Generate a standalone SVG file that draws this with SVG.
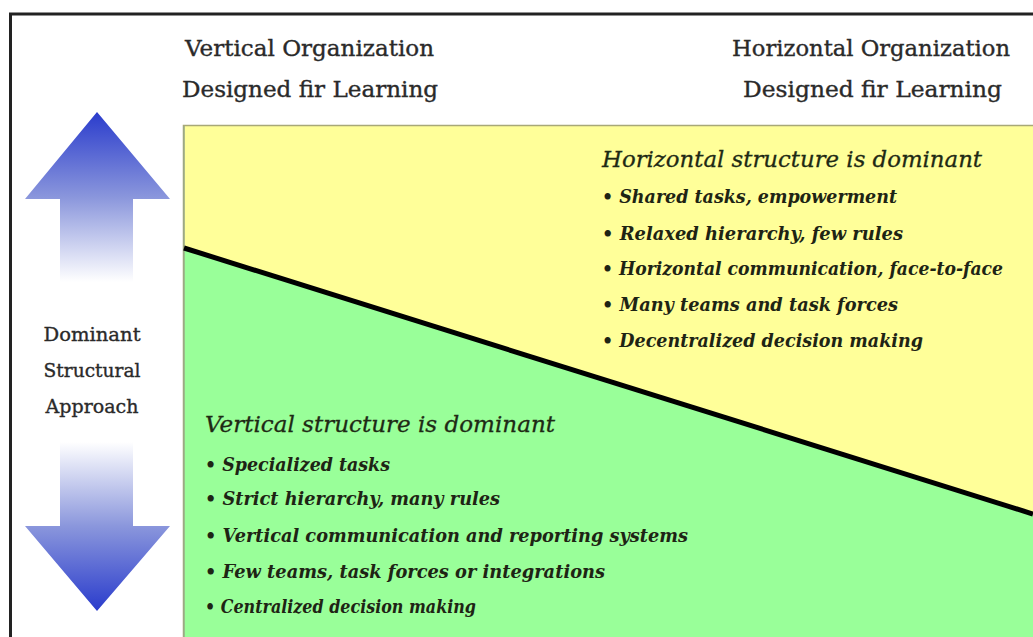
<svg xmlns="http://www.w3.org/2000/svg" width="1033" height="637" viewBox="0 0 1033 637">
<style>
text{font-family:"DejaVu Serif","Liberation Serif",serif}
.hdr{font-size:22px;fill:#2a2a2a;stroke:#2a2a2a;stroke-width:0.35}
.lbl{font-size:19px;fill:#2a2a2a;stroke:#2a2a2a;stroke-width:0.35}
.ttl{font-size:23px;font-style:italic;fill:#1e2a14;stroke:#1e2a14;stroke-width:0.3}
.bul{font-size:18px;font-style:italic;font-weight:bold;fill:#1e2414}
</style>
<defs>
<linearGradient id="gUp" x1="0" y1="0" x2="0" y2="1">
<stop offset="0" stop-color="#2a3ccc"/>
<stop offset="0.5" stop-color="#8a96dc"/>
<stop offset="1" stop-color="#ffffff"/>
</linearGradient>
<linearGradient id="gDn" x1="0" y1="1" x2="0" y2="0">
<stop offset="0" stop-color="#2a3ccc"/>
<stop offset="0.5" stop-color="#8a96dc"/>
<stop offset="1" stop-color="#ffffff"/>
</linearGradient>
</defs>
<rect width="1033" height="637" fill="#ffffff"/>
<g id="frame">
<line x1="9" y1="14" x2="1033" y2="14" stroke="#222" stroke-width="3"/>
<line x1="10.5" y1="13" x2="10.5" y2="637" stroke="#222" stroke-width="3"/>
</g>
<g id="panel">
<rect x="183.5" y="125.5" width="852" height="515" fill="#ffff99" stroke="#a8a878" stroke-width="1.5"/>
<polygon points="184,248 1034,514 1034,637 184,637" fill="#99ff99"/>
<line x1="184" y1="126" x2="184" y2="637" stroke="#9aaa88" stroke-width="1.5"/>
</g>
<g id="connectors">
<line x1="184" y1="248" x2="1033" y2="514" stroke="#000" stroke-width="5"/>
</g>
<g id="arrow-up">
<polygon points="97,112 170,199 133,199 133,282 60,282 60,199 25,199" fill="url(#gUp)"/>
</g>
<g id="arrow-down">
<polygon points="60,442 133,442 133,526 170,526 97,611 25,526 60,526" fill="url(#gDn)"/>
</g>
<g id="header-vertical">
<text class="hdr" x="185" y="56" textLength="249" lengthAdjust="spacingAndGlyphs">Vertical Organization</text>
<text class="hdr" x="182" y="97" textLength="256" lengthAdjust="spacingAndGlyphs">Designed fir Learning</text>
</g>
<g id="header-horizontal">
<text class="hdr" x="732" y="56" textLength="278" lengthAdjust="spacingAndGlyphs">Horizontal Organization</text>
<text class="hdr" x="743" y="97" textLength="259" lengthAdjust="spacingAndGlyphs">Designed fir Learning</text>
</g>
<g id="axis-label">
<text class="lbl" x="92" y="341" text-anchor="middle" textLength="97" lengthAdjust="spacingAndGlyphs">Dominant</text>
<text class="lbl" x="92" y="377" text-anchor="middle" textLength="97" lengthAdjust="spacingAndGlyphs">Structural</text>
<text class="lbl" x="92" y="413" text-anchor="middle" textLength="93" lengthAdjust="spacingAndGlyphs">Approach</text>
</g>
<g id="horizontal-dominant">
<text class="ttl" x="602" y="167" textLength="380" lengthAdjust="spacingAndGlyphs">Horizontal structure is dominant</text>
<text class="bul" x="602" y="203" textLength="295" lengthAdjust="spacingAndGlyphs">• Shared tasks, empowerment</text>
<text class="bul" x="602" y="240" textLength="301" lengthAdjust="spacingAndGlyphs">• Relaxed hierarchy, few rules</text>
<text class="bul" x="602" y="275" textLength="401" lengthAdjust="spacingAndGlyphs">• Horizontal communication, face-to-face</text>
<text class="bul" x="602" y="311" textLength="296" lengthAdjust="spacingAndGlyphs">• Many teams and task forces</text>
<text class="bul" x="602" y="347" textLength="321" lengthAdjust="spacingAndGlyphs">• Decentralized decision making</text>
</g>
<g id="vertical-dominant">
<text class="ttl" x="205" y="432" textLength="350" lengthAdjust="spacingAndGlyphs">Vertical structure is dominant</text>
<text class="bul" x="205" y="471" textLength="185" lengthAdjust="spacingAndGlyphs">• Specialized tasks</text>
<text class="bul" x="205" y="505" textLength="295" lengthAdjust="spacingAndGlyphs">• Strict hierarchy, many rules</text>
<text class="bul" x="205" y="542" textLength="483" lengthAdjust="spacingAndGlyphs">• Vertical communication and reporting systems</text>
<text class="bul" x="205" y="578" textLength="400" lengthAdjust="spacingAndGlyphs">• Few teams, task forces or integrations</text>
<text class="bul" x="205" y="613" textLength="271" lengthAdjust="spacingAndGlyphs">• Centralized decision making</text>
</g>
</svg>
